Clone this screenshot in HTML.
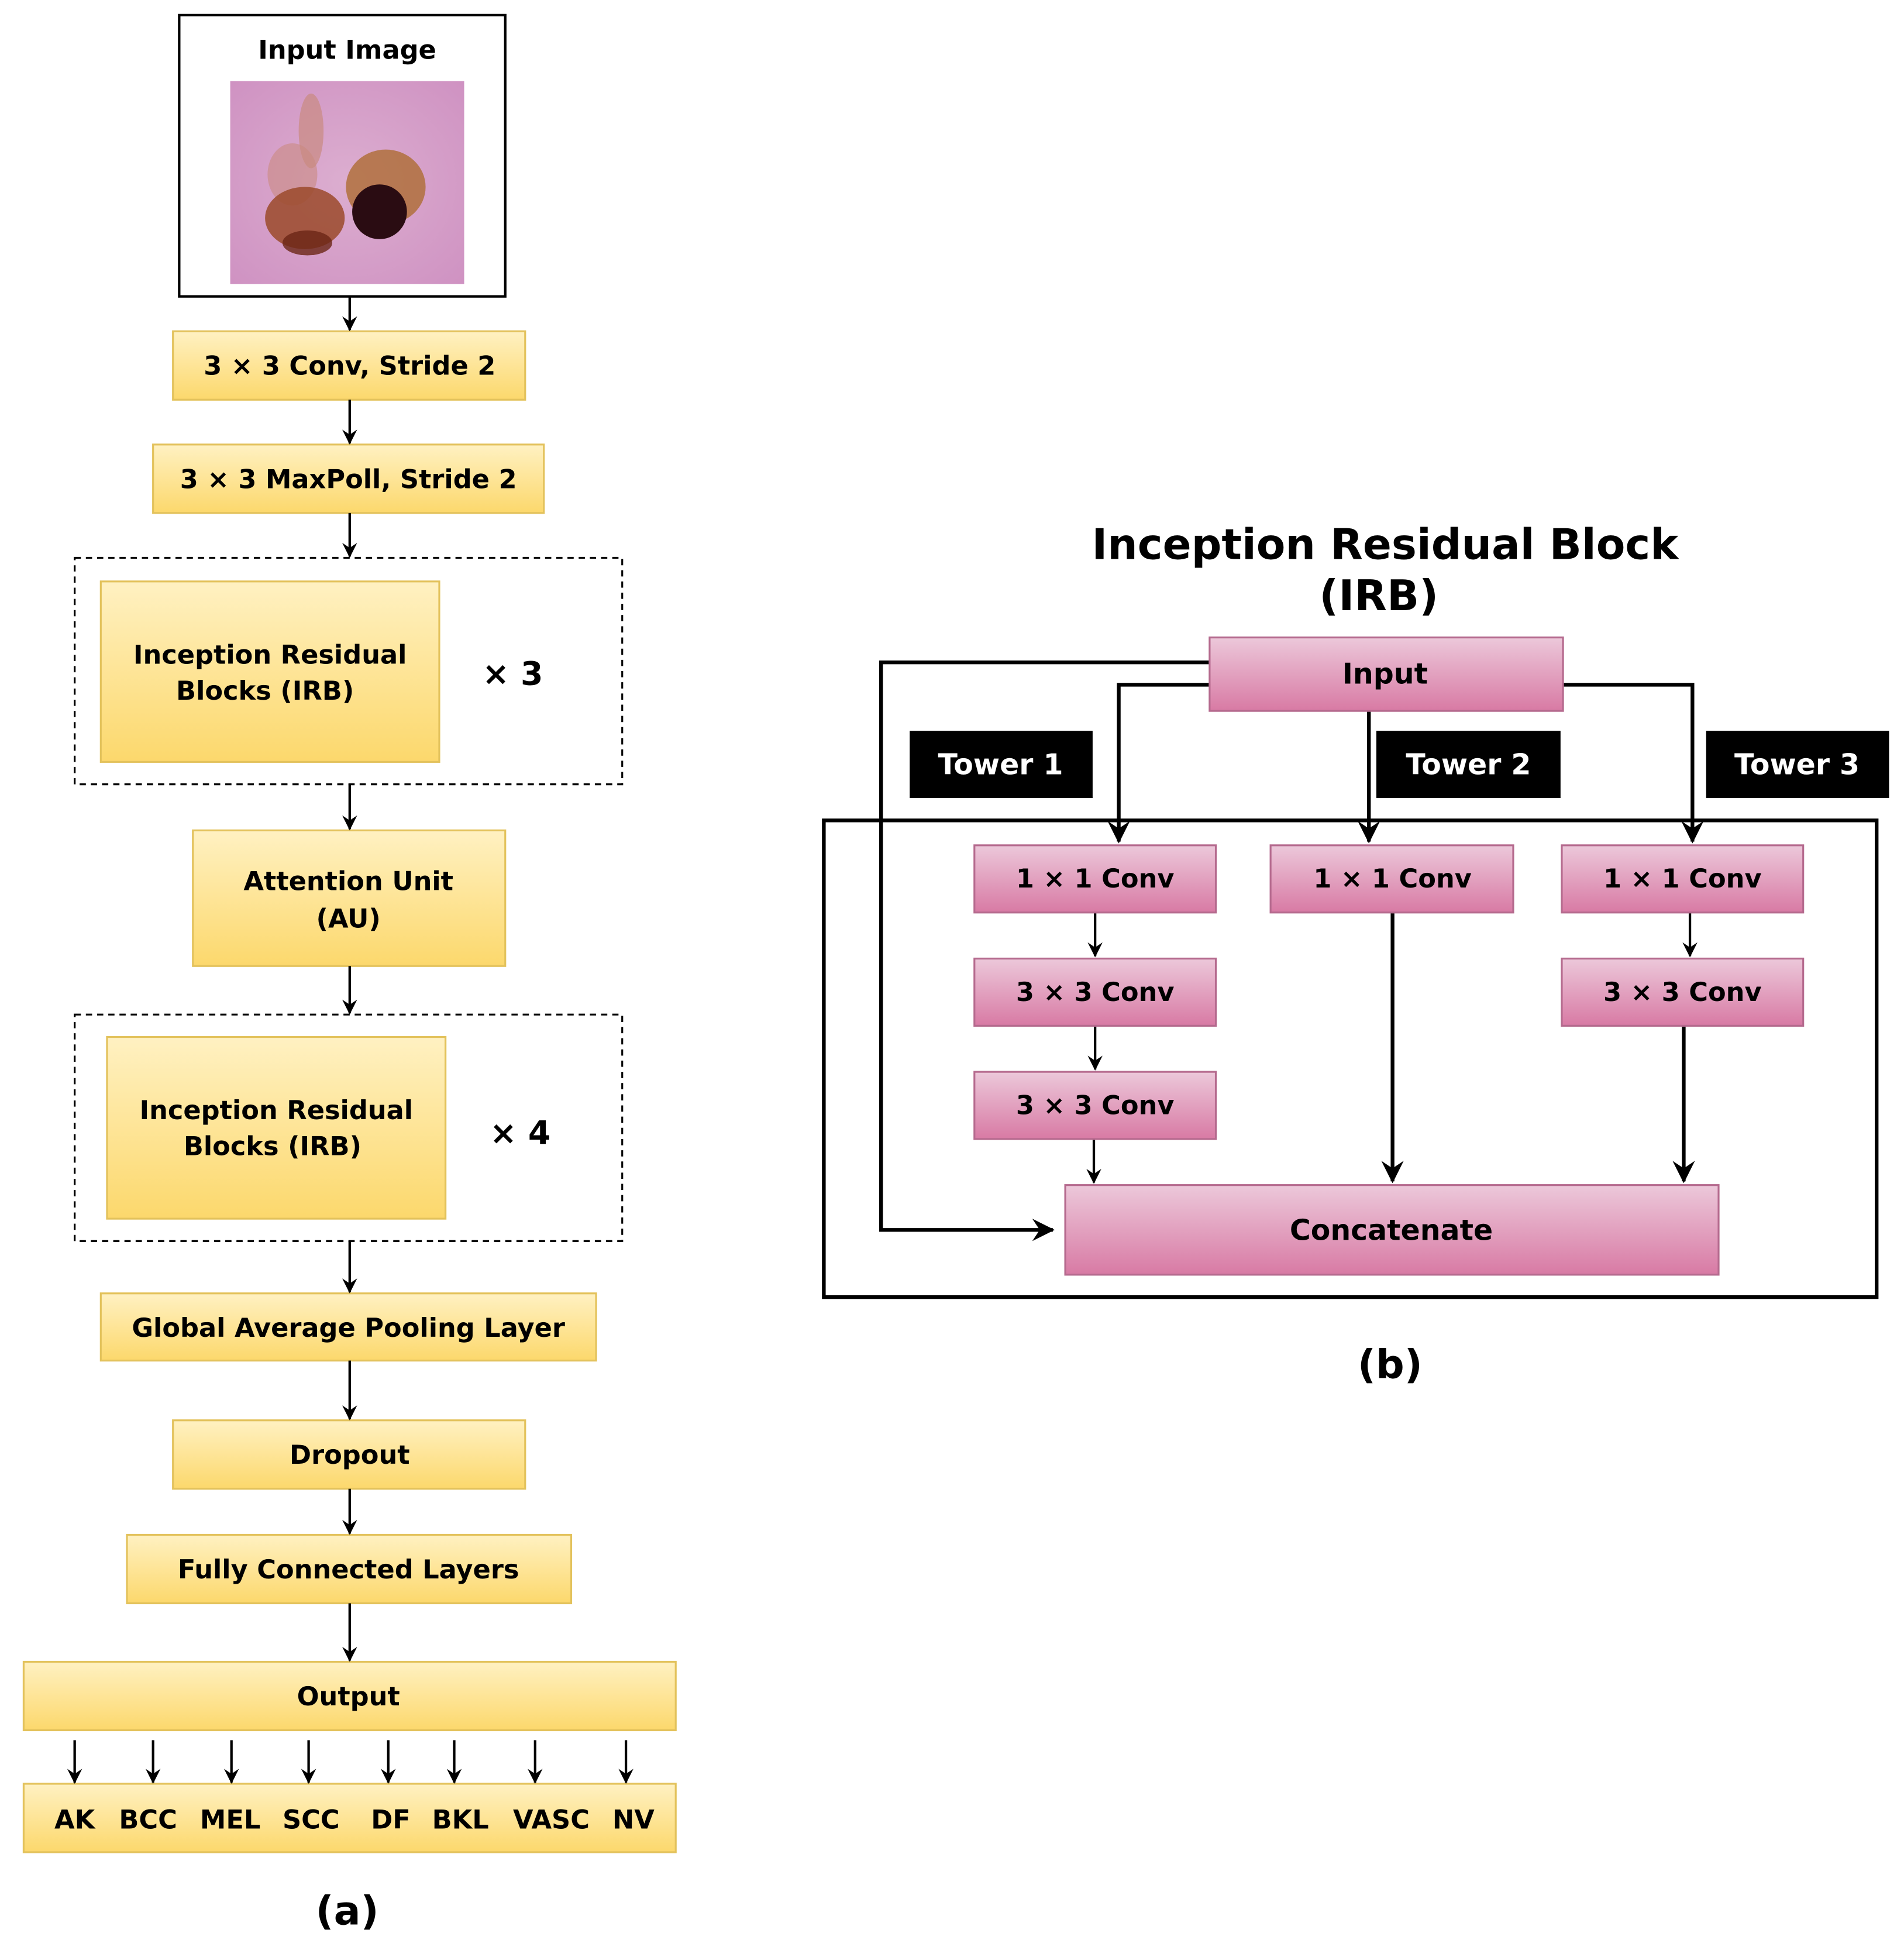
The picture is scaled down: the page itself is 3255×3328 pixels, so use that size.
<!DOCTYPE html>
<html><head><meta charset="utf-8"><style>html,body{margin:0;padding:0;background:#fff}svg{display:block}</style></head><body>
<svg width="3255" height="3328" viewBox="0 0 1530 1564" xmlns="http://www.w3.org/2000/svg" font-family="'DejaVu Sans','Liberation Sans',sans-serif" font-weight="bold">
<defs>
<linearGradient id="y" x1="0" y1="0" x2="0" y2="1"><stop offset="0" stop-color="#fff1c2"/><stop offset="1" stop-color="#fcd86c"/></linearGradient>
<linearGradient id="p" x1="0" y1="0" x2="0" y2="1"><stop offset="0" stop-color="#ecc8da"/><stop offset="1" stop-color="#d87aa4"/></linearGradient>
<marker id="a" viewBox="0 0 12 12" refX="11" refY="6" markerWidth="12" markerHeight="12" markerUnits="userSpaceOnUse" orient="auto"><path d="M0,0 L12,6 L0,12 L4,6 z" fill="#000"/></marker>
<marker id="b" viewBox="0 0 12 12" refX="11" refY="6" markerWidth="18" markerHeight="18" markerUnits="userSpaceOnUse" orient="auto"><path d="M0,0 L12,6 L0,12 L4,6 z" fill="#000"/></marker>
<radialGradient id="skin" cx="0.5" cy="0.5" r="0.7"><stop offset="0" stop-color="#dcaed0"/><stop offset="1" stop-color="#cf92c2"/></radialGradient>
</defs>
<g stroke="#e3c25c" stroke-width="1.5" fill="url(#y)">
<rect x="139" y="266" width="283" height="55"/>
<rect x="123" y="357" width="314" height="55"/>
<rect x="81" y="467" width="272" height="145"/>
<rect x="155" y="667" width="251" height="109"/>
<rect x="86" y="833" width="272" height="146"/>
<rect x="81" y="1039" width="398" height="54"/>
<rect x="139" y="1141" width="283" height="55"/>
<rect x="102" y="1233" width="357" height="55"/>
<rect x="19" y="1335" width="524" height="55"/>
<rect x="19" y="1433" width="524" height="55"/>
</g>
<rect x="144" y="12" width="262" height="226" fill="none" stroke="#000" stroke-width="2"/>
<rect x="185" y="65" width="188" height="163" fill="url(#skin)"/>
<ellipse cx="250" cy="105" rx="10" ry="30" fill="#c98a80" opacity="0.7"/>
<ellipse cx="235" cy="140" rx="20" ry="25" fill="#c98a80" opacity="0.6"/>
<ellipse cx="310" cy="150" rx="32" ry="30" fill="#b0703c" opacity="0.85"/>
<ellipse cx="245" cy="175" rx="32" ry="25" fill="#9b4a2a" opacity="0.85"/>
<ellipse cx="305" cy="170" rx="22" ry="22" fill="#2a0c12"/>
<ellipse cx="247" cy="195" rx="20" ry="10" fill="#6a2515" opacity="0.8"/>
<g fill="none" stroke="#000" stroke-width="1.5" stroke-dasharray="5,4">
<rect x="60" y="448" width="440" height="182"/>
<rect x="60" y="815" width="440" height="182"/>
</g>
<g stroke="#000" stroke-width="2" marker-end="url(#a)">
<line x1="281" y1="238" x2="281" y2="265"/>
<line x1="281" y1="321" x2="281" y2="356"/>
<line x1="281" y1="412" x2="281" y2="447"/>
<line x1="281" y1="630" x2="281" y2="666"/>
<line x1="281" y1="776" x2="281" y2="814"/>
<line x1="281" y1="997" x2="281" y2="1038"/>
<line x1="281" y1="1093" x2="281" y2="1140"/>
<line x1="281" y1="1196" x2="281" y2="1232"/>
<line x1="281" y1="1288" x2="281" y2="1334"/>
<line x1="60" y1="1398" x2="60" y2="1432"/>
<line x1="123" y1="1398" x2="123" y2="1432"/>
<line x1="186" y1="1398" x2="186" y2="1432"/>
<line x1="248" y1="1398" x2="248" y2="1432"/>
<line x1="312" y1="1398" x2="312" y2="1432"/>
<line x1="365" y1="1398" x2="365" y2="1432"/>
<line x1="430" y1="1398" x2="430" y2="1432"/>
<line x1="503" y1="1398" x2="503" y2="1432"/>
</g>
<g font-size="21" text-anchor="middle" fill="#000">
<text x="279" y="47">Input Image</text>
<text x="281" y="301">3  × 3 Conv, Stride 2</text>
<text x="280" y="392">3  × 3 MaxPoll, Stride 2</text>
<text x="217" y="533">Inception Residual</text>
<text x="213" y="562">Blocks (IRB)</text>
<text x="412" y="550" font-size="26">× 3</text>
<text x="280" y="715">Attention Unit</text>
<text x="280" y="745">(AU)</text>
<text x="222" y="899">Inception Residual</text>
<text x="219" y="928">Blocks (IRB)</text>
<text x="418" y="919" font-size="26">× 4</text>
<text x="280" y="1074">Global Average Pooling Layer</text>
<text x="281" y="1176">Dropout</text>
<text x="280" y="1268">Fully Connected Layers</text>
<text x="280" y="1370">Output</text>
<text x="60" y="1469">AK</text>
<text x="119" y="1469">BCC</text>
<text x="185" y="1469">MEL</text>
<text x="250" y="1469">SCC</text>
<text x="314" y="1469">DF</text>
<text x="370" y="1469">BKL</text>
<text x="443" y="1469">VASC</text>
<text x="509" y="1469">NV</text>
<text x="279" y="1546" font-size="32">(a)</text>
<text x="1113" y="449" font-size="34">Inception Residual Block</text>
<text x="1108" y="490" font-size="34">(IRB)</text>
<text x="1117" y="1107" font-size="32">(b)</text>
</g>
<rect x="662" y="659" width="846" height="383" fill="none" stroke="#000" stroke-width="3"/>
<g fill="#000">
<rect x="731" y="587" width="147" height="54"/>
<rect x="1106" y="587" width="148" height="54"/>
<rect x="1371" y="587" width="147" height="54"/>
</g>
<g font-size="23" text-anchor="middle" fill="#fff">
<text x="804" y="622">Tower 1</text>
<text x="1180" y="622">Tower 2</text>
<text x="1444" y="622">Tower 3</text>
</g>
<g fill="none" stroke="#000" stroke-width="3">
<polyline points="972,532 708,532 708,988 846,988" marker-end="url(#b)"/>
<polyline points="972,550 899,550 899,676" marker-end="url(#b)"/>
<polyline points="1100,571 1100,676" marker-end="url(#b)"/>
<polyline points="1256,550 1360,550 1360,676" marker-end="url(#b)"/>
<line x1="1119" y1="733" x2="1119" y2="949" marker-end="url(#b)"/>
<line x1="1353" y1="824" x2="1353" y2="949" marker-end="url(#b)"/>
</g>
<g stroke="#000" stroke-width="2" marker-end="url(#a)">
<line x1="880" y1="733" x2="880" y2="768"/>
<line x1="880" y1="824" x2="880" y2="859"/>
<line x1="879" y1="915" x2="879" y2="950"/>
<line x1="1358" y1="733" x2="1358" y2="768"/>
</g>
<g stroke="#b56a8e" stroke-width="1.5" fill="url(#p)">
<rect x="972" y="512" width="284" height="59"/>
<rect x="783" y="679" width="194" height="54"/>
<rect x="783" y="770" width="194" height="54"/>
<rect x="783" y="861" width="194" height="54"/>
<rect x="1021" y="679" width="195" height="54"/>
<rect x="1255" y="679" width="194" height="54"/>
<rect x="1255" y="770" width="194" height="54"/>
<rect x="856" y="952" width="525" height="72"/>
</g>
<g font-size="21" text-anchor="middle" fill="#000">
<text x="1113" y="549" font-size="23">Input</text>
<text x="880" y="713">1  × 1 Conv</text>
<text x="880" y="804">3  × 3 Conv</text>
<text x="880" y="895">3  × 3 Conv</text>
<text x="1119" y="713">1  × 1 Conv</text>
<text x="1352" y="713">1  × 1 Conv</text>
<text x="1352" y="804">3  × 3 Conv</text>
<text x="1118" y="996" font-size="23">Concatenate</text>
</g>
</svg>
</body></html>
